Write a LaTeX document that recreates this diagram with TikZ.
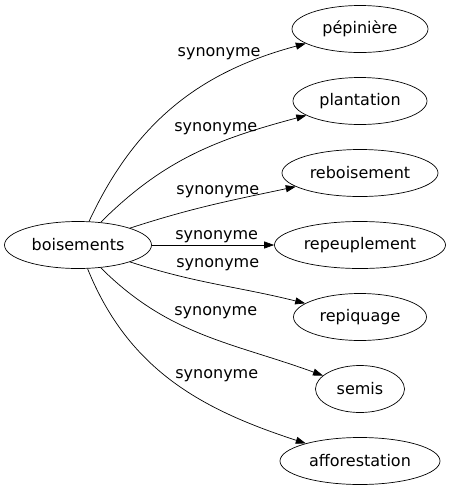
\documentclass[tikz,border=0pt]{standalone}
\usepackage{fontspec}
\setmainfont{DejaVu Sans}
\usetikzlibrary{shapes.geometric,arrows.meta}

\tikzset{
  word/.style={draw, ellipse, inner sep=0pt, minimum height=47},
  syn/.style={inner sep=0pt},
}

\begin{document}
\begin{tikzpicture}[x=1pt, y=1pt, >={Triangle[length=10pt,width=7pt]}, line width=0.7pt, font=\fontsize{16}{19}\selectfont]
    \useasboundingbox (0,0) rectangle (450,-491);
    \node[word, minimum width=147]   (bois)   at (78,-245)   {boisements};
    \node[word, minimum width=136]   (pepi)   at (360,-29)   {pépinière};
    \node[word, minimum width=134]   (plant)  at (360,-101)  {plantation};
    \node[word, minimum width=156]   (rebois) at (360,-173)  {reboisement};
    \node[word, minimum width=171]   (repeup) at (360,-245)  {repeuplement};
    \node[word, minimum width=133]   (repiq)  at (360,-317)  {repiquage};
    \node[word, minimum width=89]    (semis)  at (360,-389)  {semis};
    \node[word, minimum width=160]   (affor)  at (360,-461)  {afforestation};

    % edges
    \path[->]   (bois)   edge  [out=65, in=195]   node[syn, pos=0.85, anchor=south east, yshift=-2pt]  {synonyme}  (pepi)
                         edge  [out=45, in=195]   node[syn, pos=0.8, anchor=south east, yshift=-6pt]   {synonyme}  (plant)
                         edge  [out=18, in=192]   node[syn, pos=0.8, anchor=south east, yshift=-4pt]   {synonyme}  (rebois)
                         edge  []                 node[syn, pos=0.53, above=2pt]                       {synonyme}  (repeup)
                         edge  [out=-18, in=166]  node[syn, pos=0.25, anchor=south west, yshift=4pt]   {synonyme}  (repiq)
                         edge  [out=-45, in=160]  node[syn, pos=0.36, anchor=south west, yshift=2pt]   {synonyme}  (semis)
                         edge  [out=-68, in=162]  node[syn, pos=0.5, anchor=south west, yshift=-1pt, xshift=2pt]  {synonyme}  (affor);
\end{tikzpicture}
\end{document}
